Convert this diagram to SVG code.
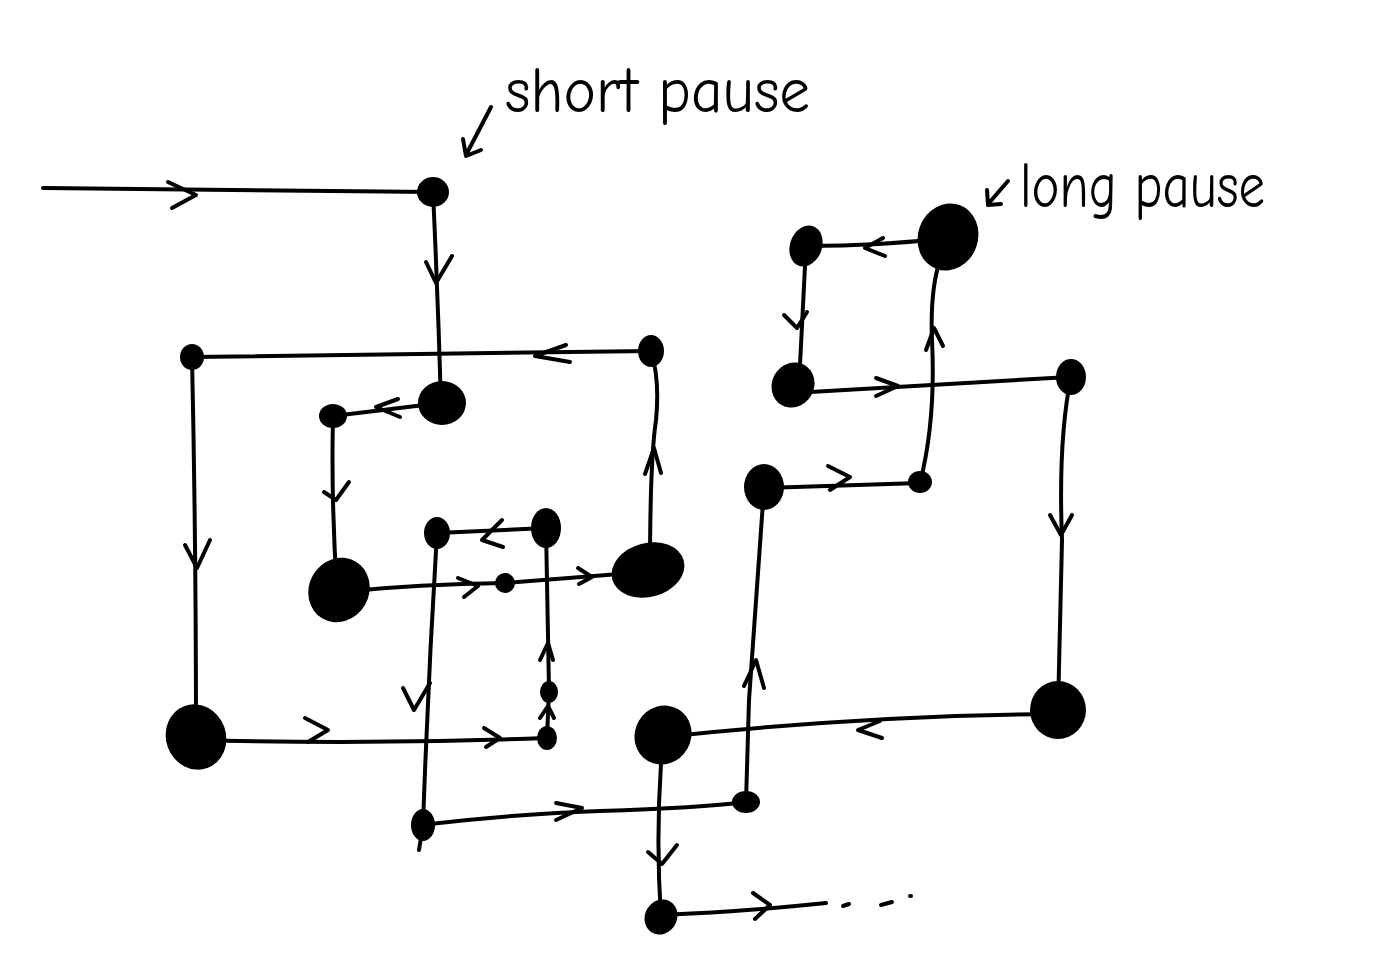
<svg xmlns="http://www.w3.org/2000/svg" width="1386" height="973" viewBox="0 0 1386 973">
<style>
.c{fill:none;stroke:#000;stroke-width:4;stroke-linecap:round;stroke-linejoin:round}
.n{fill:#000}
.t{font-family:"Comic Neue","Liberation Sans",sans-serif;fill:#000}
</style>
<rect width="1386" height="973" fill="#fff"/>
<g id="connectors" class="c">
<path d="M43 188 L433 192"/><path d="M168 182 L196 195 L172 208"/>
<path d="M433 192 Q438 300 441 403"/><path d="M426 262 L436 283 L452 256"/>
<path d="M441 403 L333 416"/><path d="M398 399 L376 407 L400 417"/>
<path d="M333 416 Q331 500 337 590"/><path d="M324 492 L336 500 L349 482"/>
<path d="M339 592 Q420 584 505 583 L645 572"/><path d="M458 578 L478 586 L464 597"/><path d="M578 568 L592 577 L579 584"/>
<path d="M650 570 Q650 460 656 420 Q660 380 651 351"/><path d="M645 474 L654 448 L661 473"/>
<path d="M651 351 L192 357"/><path d="M566 345 L535 356 L570 362"/>
<path d="M192 357 Q196 540 196 737"/><path d="M185 545 L197 568 L210 540"/>
<path d="M196 740 Q370 745 545 738"/><path d="M305 718 L328 730 L308 742"/><path d="M484 728 L500 738 L486 747"/>
<path d="M547 738 L549 690"/><path d="M540 718 L548 706 L554 718"/>
<path d="M549 690 L546 528"/><path d="M540 660 L548 643 L553 660"/>
<path d="M546 528 L437 533"/><path d="M502 520 L482 540 L503 547"/>
<path d="M437 533 Q428 680 423 825 L419 850"/><path d="M403 688 L414 710 L430 683"/>
<path d="M423 825 Q500 815 600 811 Q700 808 746 802"/><path d="M556 803 L582 808 L556 820"/>
<path d="M746 802 L749 700 L764 488"/><path d="M744 686 L756 660 L764 688"/>
<path d="M764 488 L920 483"/><path d="M828 466 L850 477 L830 490"/>
<path d="M920 483 Q936 420 932 340 Q930 290 940 260 L948 238"/><path d="M926 350 L934 328 L943 346"/>
<path d="M948 238 Q880 246 806 246"/><path d="M883 238 L865 248 L885 256"/>
<path d="M806 246 L799 385"/><path d="M784 315 L797 328 L807 312"/>
<path d="M793 393 L1070 377"/><path d="M876 378 L898 386 L876 396"/>
<path d="M1071 377 Q1058 440 1062 540 Q1060 620 1058 710"/><path d="M1050 515 L1061 535 L1072 515"/>
<path d="M1058 714 Q870 715 663 737"/><path d="M880 721 L858 730 L882 738"/>
<path d="M663 737 Q655 830 661 917"/><path d="M648 852 L662 864 L677 845"/>
<path d="M661 915 Q740 912 826 903"/><path d="M753 893 L770 905 L755 919"/>
<path d="M843 906 L849 904 M881 905 L892 902 M910 896 L911 896"/>
</g>
<g id="labels">
<text class="t" x="505" y="112" font-size="64" textLength="305" lengthAdjust="spacingAndGlyphs">short pause</text>
<path class="c" d="M491 107 L466 155 M463 139 L466 156 L481 150"/>
<text class="t" x="1020" y="207" font-size="64" textLength="245" lengthAdjust="spacingAndGlyphs">long pause</text>
<path class="c" d="M1008 181 L989 203 M987 190 L988 205 L1001 204"/>
</g>
<g id="n1"><ellipse class="n" cx="433" cy="192" rx="16" ry="15"/></g>
<g id="n2"><ellipse class="n" cx="442" cy="403" rx="24" ry="22"/></g>
<g id="n3"><ellipse class="n" cx="333" cy="416" rx="14" ry="12"/></g>
<g id="n4"><ellipse class="n" cx="339" cy="590" rx="30" ry="33" transform="rotate(30 339 590)"/></g>
<g id="n5"><ellipse class="n" cx="505" cy="583" rx="10" ry="10"/></g>
<g id="n6"><ellipse class="n" cx="648" cy="570" rx="37" ry="27" transform="rotate(-15 648 570)"/></g>
<g id="n7"><ellipse class="n" cx="651" cy="351" rx="13" ry="16"/></g>
<g id="n8"><ellipse class="n" cx="192" cy="357" rx="12" ry="13"/></g>
<g id="n9"><ellipse class="n" cx="196" cy="737" rx="30" ry="33" transform="rotate(-20 196 737)"/></g>
<g id="n10"><ellipse class="n" cx="547" cy="738" rx="10" ry="12"/></g>
<g id="n11"><ellipse class="n" cx="549" cy="692" rx="9" ry="11"/></g>
<g id="n12"><ellipse class="n" cx="546" cy="528" rx="15" ry="20"/></g>
<g id="n13"><ellipse class="n" cx="437" cy="533" rx="13" ry="16"/></g>
<g id="n14"><ellipse class="n" cx="423" cy="825" rx="12" ry="16"/></g>
<g id="n15"><ellipse class="n" cx="746" cy="802" rx="14" ry="11"/></g>
<g id="n16"><ellipse class="n" cx="764" cy="487" rx="20" ry="23"/></g>
<g id="n17"><ellipse class="n" cx="920" cy="482" rx="12" ry="11"/></g>
<g id="n18"><ellipse class="n" cx="948" cy="237" rx="30" ry="34" transform="rotate(20 948 237)"/></g>
<g id="n19"><ellipse class="n" cx="806" cy="246" rx="16" ry="21" transform="rotate(20 806 246)"/></g>
<g id="n20"><ellipse class="n" cx="793" cy="385" rx="21" ry="23" transform="rotate(30 793 385)"/></g>
<g id="n21"><ellipse class="n" cx="1071" cy="377" rx="15" ry="18"/></g>
<g id="n22"><ellipse class="n" cx="1058" cy="710" rx="28" ry="29"/></g>
<g id="n23"><ellipse class="n" cx="663" cy="735" rx="28" ry="30" transform="rotate(30 663 735)"/></g>
<g id="n24"><ellipse class="n" cx="661" cy="917" rx="16" ry="18" transform="rotate(30 661 917)"/></g>
</svg>
